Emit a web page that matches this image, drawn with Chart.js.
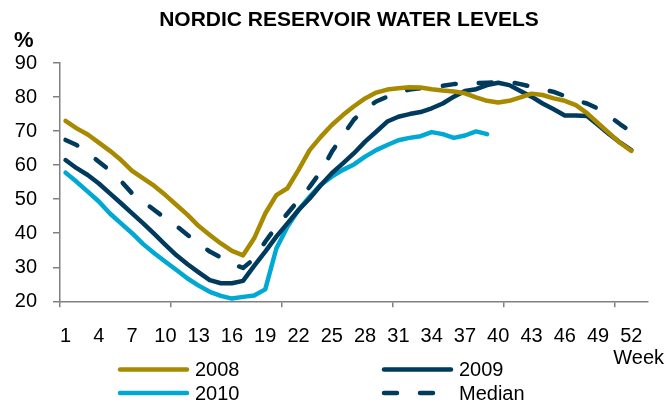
<!DOCTYPE html>
<html>
<head>
<meta charset="utf-8">
<script src="https://cdn.jsdelivr.net/npm/chart.js@4/dist/chart.umd.min.js"></script>
<style>
  html, body { margin: 0; padding: 0; background: #ffffff; }
  #wrap { width: 668px; height: 403px; position: relative; }
</style>
</head>
<body>
<div id="wrap"><canvas id="c" width="668" height="403"></canvas></div>
<script>
const chartTitle = 'NORDIC RESERVOIR WATER LEVELS';
const yUnit = '%';
const xUnit = 'Week';

const weeks = [1,2,3,4,5,6,7,8,9,10,11,12,13,14,15,16,17,18,19,20,21,22,23,24,25,26,
  27,28,29,30,31,32,33,34,35,36,37,38,39,40,41,42,43,44,45,46,47,48,49,50,51,52,53];
const xTickLabels = ['1','4','7','10','13','16','19','22','25','28','31','34','37','40','43','46','49','52'];
const yTickValues = [20,30,40,50,60,70,80,90];

const series2008 = [73.0,70.8,69.0,66.6,64.2,61.5,58.3,56.1,53.9,51.2,48.3,45.4,42.1,39.5,37.0,34.8,
  33.5,38.5,45.8,51.2,53.2,58.6,64.4,68.3,71.8,74.7,77.3,79.6,81.3,82.2,82.6,82.9,82.8,82.3,81.9,81.6,
  81.1,79.9,78.9,78.4,78.9,79.9,81.0,80.6,79.6,78.9,77.6,75.3,72.3,69.4,66.5,64.2,null];
const series2009 = [61.5,59.1,57.1,54.6,51.7,48.8,45.8,42.9,39.8,36.6,33.5,30.9,28.5,26.2,25.3,25.3,
  26.0,30.4,34.6,39.0,42.9,46.8,50.2,54.1,57.6,60.5,63.5,66.9,69.8,72.8,74.2,75.0,75.6,76.7,78.1,80.1,
  81.8,82.3,83.5,84.2,83.5,81.8,80.1,78.1,76.4,74.6,74.6,74.4,71.8,69.1,66.6,64.4,null];
const series2010 = [57.8,55.1,52.2,49.3,45.8,42.9,40.0,36.8,34.1,31.6,29.2,26.7,24.6,22.8,21.6,20.8,
  21.3,21.7,23.5,35.5,41.9,46.8,50.7,54.2,56.6,58.6,60.2,62.5,64.4,65.9,67.3,68.0,68.5,69.7,69.1,68.0,
  68.7,69.9,69.1];
const seriesMedian = [67.4,65.9,63.6,61.0,58.4,55.3,51.7,49.3,46.8,44.4,42.1,39.5,37.0,34.6,32.9,31.0,
  29.8,32.5,37.5,41.9,45.8,49.7,53.6,58.1,63.9,68.8,73.4,76.4,78.7,80.1,81.3,82.2,82.6,83.0,83.3,83.8,
  84.0,84.1,84.2,84.3,84.4,83.8,83.0,82.3,81.5,80.3,79.1,78.1,76.6,74.4,72.0,69.8,67.3];

const seriesNames = ['2008','2009','2010','Median'];

const FONT = '"Liberation Sans", Arial, Helvetica, sans-serif';
const GOLD = '#A88A00', NAVY = '#003A5C', CYAN = '#00A9D4', AXIS = '#808080';

function lineDs(label, data, color, dash) {
  return {
    label, data,
    borderColor: color, backgroundColor: color,
    borderWidth: 4.5, pointRadius: 0, pointHoverRadius: 0,
    tension: 0, fill: false, spanGaps: false,
    borderDash: dash || [], borderCapStyle: 'round', borderJoinStyle: 'round'
  };
}

const decor = {
  id: 'decor',
  afterDraw(chart) {
    const ctx = chart.ctx;
    ctx.save();
    ctx.fillStyle = '#000';
    ctx.textBaseline = 'middle';
    // title
    ctx.font = 'bold 21px ' + FONT;
    ctx.textAlign = 'center';
    ctx.fillText(chartTitle, 349, 20);
    // unit
    ctx.font = 'bold 22px ' + FONT;
    ctx.textAlign = 'left';
    ctx.fillText(yUnit, 14, 41);
    // week label
    ctx.font = '20px ' + FONT;
    ctx.textAlign = 'right';
    ctx.fillText(xUnit, 664, 358);
    // legend
    const cols = [118, 382], rows = [369.5, 393];
    chart.data.datasets.forEach((ds, i) => {
      const x = cols[i % 2], y = rows[Math.floor(i / 2)];
      ctx.strokeStyle = ds.borderColor;
      ctx.lineWidth = 4.5;
      ctx.lineCap = 'round';
      ctx.setLineDash(ds.borderDash && ds.borderDash.length ? [13, 23] : []);
      ctx.beginPath();
      ctx.moveTo(x + 2, y);
      ctx.lineTo(x + 69, y);
      ctx.stroke();
      ctx.setLineDash([]);
      ctx.font = '20px ' + FONT;
      ctx.textAlign = 'left';
      ctx.fillStyle = '#000';
      ctx.fillText(ds.label, x + 77, y + 1);
    });
    ctx.restore();
  }
};

new Chart(document.getElementById('c'), {
  type: 'line',
  data: {
    labels: weeks,
    datasets: [
      lineDs(seriesNames[0], series2008, GOLD),
      lineDs(seriesNames[1], series2009, NAVY),
      lineDs(seriesNames[2], series2010, CYAN),
      lineDs(seriesNames[3], seriesMedian, NAVY, [13, 23])
    ]
  },
  options: {
    responsive: false,
    animation: false,
    events: [],
    devicePixelRatio: 1,
    layout: { padding: { top: 63, right: 20, bottom: 0, left: 0 } },
    plugins: { legend: { display: false }, title: { display: false }, tooltip: { enabled: false } },
    scales: {
      x: {
        type: 'category',
        offset: true,
        afterFit(scale) { scale.height = 101.7; },
        grid: {
          offset: true,
          drawOnChartArea: false,
          drawTicks: true,
          tickLength: 6,
          lineWidth: 1.5,
          color: (c) => (c.index % 10 === 0 ? AXIS : 'rgba(0,0,0,0)')
        },
        border: { display: true, color: AXIS, width: 1.5 },
        ticks: {
          autoSkip: false, maxRotation: 0, minRotation: 0,
          padding: 17, color: '#000',
          font: { family: FONT, size: 20 },
          callback: (v, i) => (xTickLabels.includes(String(weeks[i])) ? String(weeks[i]) : '')
        }
      },
      y: {
        min: 20, max: 90,
        afterFit(scale) { scale.width = 60; },
        afterBuildTicks(scale) { scale.ticks = yTickValues.map(v => ({ value: v })); },
        grid: { drawOnChartArea: false, drawTicks: true, tickLength: 7, lineWidth: 1.5, color: AXIS },
        border: { display: true, color: AXIS, width: 1.5 },
        ticks: { padding: 16, color: '#000', font: { family: FONT, size: 20 } }
      }
    }
  },
  plugins: [decor]
});
</script>
</body>
</html>
